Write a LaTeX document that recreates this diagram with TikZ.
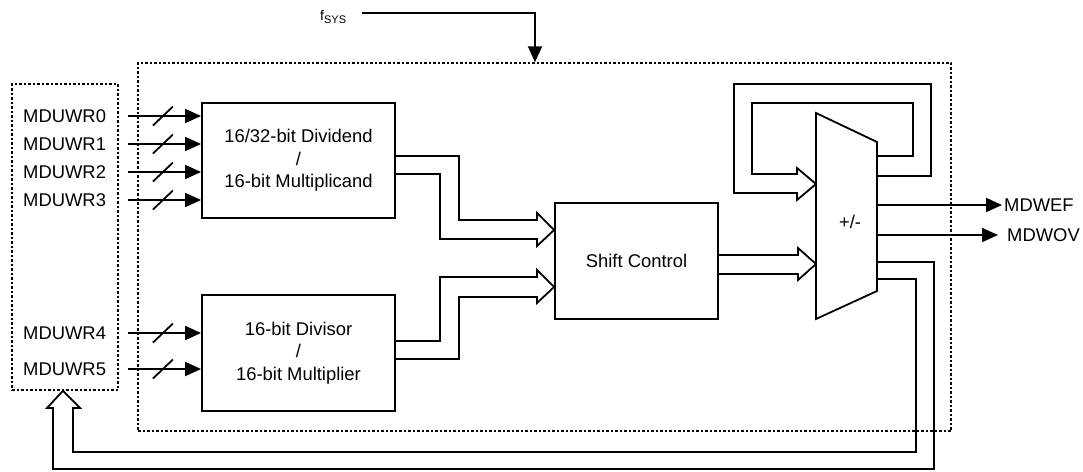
\documentclass[tikz,border=0pt]{standalone}
\usepackage{fontspec}
\setmainfont{Liberation Sans}
\usetikzlibrary{arrows.meta,calc}
\begin{document}
\begin{tikzpicture}[x=1pt,y=-1pt,
  lw/.style={line width=1.8pt},
  dbox/.style={draw, line width=1.5pt, dash pattern=on 2.5pt off 2pt, inner sep=0pt},
  blk/.style={draw, line width=1.8pt, align=center, font=\fontsize{18.4}{22.5}\selectfont, inner sep=0pt},
  lbl/.style={font=\fontsize{18.4}{22}\selectfont, inner sep=0pt},
  arr/.style={line width=1.8pt, -{Triangle[length=16pt,width=14pt]}},
  bus/.style={line width=1.8pt, line join=miter},
]
\useasboundingbox (0,0) rectangle (1083,471);

% dashed frames
\node[dbox, minimum width=813pt, minimum height=368pt] (main) at (544.5,247) {};
\node[dbox, minimum width=106pt, minimum height=306pt] (lbox) at (65,237) {};

% blocks
\node[blk, minimum width=193pt, minimum height=115pt] (div1) at (298.5,160.5) {16/32-bit Dividend\\/\\16-bit Multiplicand};
\node[blk, minimum width=193pt, minimum height=116pt] (div2) at (298.5,353) {16-bit Divisor\\/\\16-bit Multiplier};
\node[blk, minimum width=163pt, minimum height=116pt] (shift) at (636.5,261) {Shift Control};

% adder
\draw[lw] (816,113) coordinate (a1) -- (877,142) coordinate (a2) -- (877,291) coordinate (a3) -- (816,319) coordinate (a4) -- cycle;
\node[lbl] (adder) at (850,222) {+/-};

% register inputs
\foreach \i/\y/\b in {0/116/div1,1/144/div1,2/172/div1,3/200/div1,4/333/div2,5/369/div2}{
  \node[lbl, anchor=west] (r\i) at (23,\y) {MDUWR\i};
  \draw[arr] ([xshift=9pt]lbox.east |- r\i.west) -- (\b.west |- r\i.west) coordinate[pos=0.48] (s\i);
  \draw[lw] ([shift={(-10,9.5)}]s\i) -- ([shift={(10,-9.5)}]s\i);
}

% f_SYS
\node[anchor=base west, inner sep=0pt] (fsys) at (320,20) {{\fontsize{14}{14}\selectfont f}\raisebox{-3pt}{\fontsize{11}{11}\selectfont SYS}};
\draw[arr] ([xshift=16pt]fsys.east |- 0,13) -| (main.north -| 535,0);

% buses into shift control
\draw[bus] (div1.east |- 0,156) -| (459,220) -- (537,220) -- (537,213) -- (shift.west |- 0,230) -- (537,246) -- (537,239) -| (440,174) -- (div1.east |- 0,174);
\draw[bus] (div2.east |- 0,341) -| (440,277) -- (537,277) -- (537,270) -- (shift.west |- 0,287) -- (537,303) -- (537,297) -| (459,359) -- (div2.east |- 0,359);

% shift control to adder
\draw[bus] (shift.east |- 0,255) -- (798,255) -- (798,248) -- (a1 |- 0,264) -- (798,280) -- (798,274) -- (shift.east |- 0,274);

% accumulator feedback
\draw[bus] (a2 |- 0,156) -| (913,103) -| (752,174) -- (797,174) -- (797,168) -- (a1 |- 0,184) -- (797,200) -- (797,193) -| (734,84) -| (931,176) -- (a2 |- 0,176);

% result feedback to registers
\draw[bus] (a3 |- 0,279) -| (916,452) -| (73,408) -- (80,408) -- (lbox.south -| 63,0) -- (47,408) -- (53,408) |- (934,469) |- (a3 |- 0,262);

% outputs
\node[lbl, anchor=west] (mdwef) at (1004,205) {MDWEF};
\node[lbl, anchor=west] (mdwov) at (1007,235) {MDWOV};
\draw[arr] (a2 |- mdwef.west) -- ([xshift=-2pt]mdwef.west);
\draw[arr] (a2 |- mdwov.west) -- ([xshift=-9pt]mdwov.west);
\end{tikzpicture}
\end{document}
